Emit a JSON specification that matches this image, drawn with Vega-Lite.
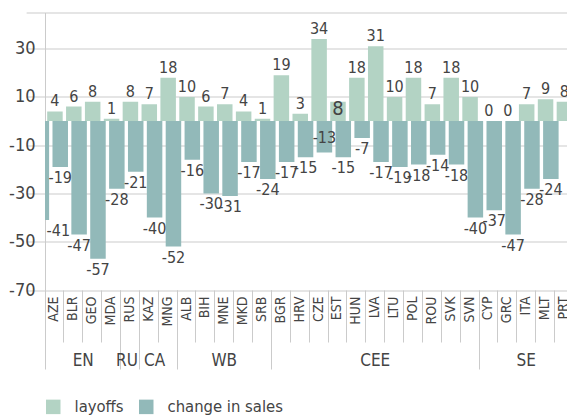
{
  "$schema": "https://vega.github.io/schema/vega-lite/v6.json",
  "width": 522,
  "height": 277.5,
  "autosize": {"type": "none"},
  "padding": {"left": 45, "top": 12.5, "right": 0, "bottom": 128},
  "config": {
    "font": "DejaVu Sans Condensed, sans-serif",
    "view": {"stroke": null},
    "axis": {"labelColor": "#444444", "labelFont": "DejaVu Sans Condensed, sans-serif"},
    "legend": {"labelFont": "DejaVu Sans Condensed, sans-serif"},
    "text": {"font": "DejaVu Sans Condensed, sans-serif", "color": "#444444", "fontSize": 16}
  },
  "data": {
    "values": [
      {"country": "ARM", "group": "EN", "layoffs": null, "sales": -41},
      {"country": "AZE", "group": "EN", "layoffs": 4, "sales": -19},
      {"country": "BLR", "group": "EN", "layoffs": 6, "sales": -47},
      {"country": "GEO", "group": "EN", "layoffs": 8, "sales": -57},
      {"country": "MDA", "group": "EN", "layoffs": 1, "sales": -28},
      {"country": "RUS", "group": "RU", "layoffs": 8, "sales": -21},
      {"country": "KAZ", "group": "CA", "layoffs": 7, "sales": -40},
      {"country": "MNG", "group": "CA", "layoffs": 18, "sales": -52},
      {"country": "ALB", "group": "WB", "layoffs": 10, "sales": -16},
      {"country": "BIH", "group": "WB", "layoffs": 6, "sales": -30},
      {"country": "MNE", "group": "WB", "layoffs": 7, "sales": -31},
      {"country": "MKD", "group": "WB", "layoffs": 4, "sales": -17},
      {"country": "SRB", "group": "WB", "layoffs": 1, "sales": -24},
      {"country": "BGR", "group": "CEE", "layoffs": 19, "sales": -17},
      {"country": "HRV", "group": "CEE", "layoffs": 3, "sales": -15},
      {"country": "CZE", "group": "CEE", "layoffs": 34, "sales": -13},
      {"country": "EST", "group": "CEE", "layoffs": 8, "sales": -15},
      {"country": "HUN", "group": "CEE", "layoffs": 18, "sales": -7},
      {"country": "LVA", "group": "CEE", "layoffs": 31, "sales": -17},
      {"country": "LTU", "group": "CEE", "layoffs": 10, "sales": -19},
      {"country": "POL", "group": "CEE", "layoffs": 18, "sales": -18},
      {"country": "ROU", "group": "CEE", "layoffs": 7, "sales": -14},
      {"country": "SVK", "group": "CEE", "layoffs": 18, "sales": -18},
      {"country": "SVN", "group": "CEE", "layoffs": 10, "sales": -40},
      {"country": "CYP", "group": "SE", "layoffs": 0, "sales": -37},
      {"country": "GRC", "group": "SE", "layoffs": 0, "sales": -47},
      {"country": "ITA", "group": "SE", "layoffs": 7, "sales": -28},
      {"country": "MLT", "group": "SE", "layoffs": 9, "sales": -24},
      {"country": "PRT", "group": "SE", "layoffs": 8, "sales": null}
    ]
  },
  "resolve": {"axis": {"x": "independent"}},
  "layer": [
    {
      "mark": {"type": "bar", "width": 15.5, "xOffset": 0.5, "clip": true},
      "encoding": {
        "x": {
          "field": "country",
          "type": "nominal",
          "scale": {
            "domain": ["ARM","AZE","BLR","GEO","MDA","RUS","KAZ","MNG","ALB","BIH","MNE","MKD","SRB","BGR","HRV","CZE","EST","HUN","LVA","LTU","POL","ROU","SVK","SVN","CYP","GRC","ITA","MLT","PRT"],
            "range": [-18.87, 528.36],
            "paddingInner": 0,
            "paddingOuter": 0
          },
          "axis": {
            "orient": "bottom",
            "title": null,
            "values": ["AZE","BLR","GEO","MDA","RUS","KAZ","MNG","ALB","BIH","MNE","MKD","SRB","BGR","HRV","CZE","EST","HUN","LVA","LTU","POL","ROU","SVK","SVN","CYP","GRC","ITA","MLT","PRT"],
            "bandPosition": 0,
            "labelOffset": 0,
            "labelAngle": -90,
            "labelFontSize": 14,
            "labelPadding": -46,
            "tickSize": 52,
            "tickColor": "#cbcbcb",
            "domain": false,
            "grid": false,
            "labelOverlap": false
          }
        },
        "y": {
          "field": "layoffs",
          "type": "quantitative",
          "title": null,
          "scale": {"domain": [-70, 45], "nice": false},
          "axis": {
            "title": null,
            "values": [-70, -50, -30, -10, 10, 30, 45],
            "grid": true,
            "gridColor": "#cbcbcb",
            "ticks": false,
            "domain": true,
            "domainColor": "#cbcbcb",
            "labelExpr": "datum.value == 45 ? '' : '' + datum.value",
            "labelFontSize": 18,
            "labelPadding": 10
          }
        },
        "color": {
          "datum": "layoffs",
          "scale": {"domain": ["layoffs", "change in sales"], "range": ["#b3d3c4", "#92b9b9"]},
          "legend": {
            "orient": "none",
            "legendX": 0,
            "legendY": 386,
            "direction": "horizontal",
            "title": null,
            "symbolType": "square",
            "symbolSize": 210,
            "symbolStrokeWidth": 0,
            "labelFontSize": 16.5,
            "labelColor": "#444444",
            "labelOffset": 13,
            "columnPadding": 14,
            "padding": 0
          }
        }
      }
    },
    {
      "mark": {"type": "bar", "width": 15.5, "xOffset": 5.8, "clip": true},
      "encoding": {
        "x": {
          "field": "country",
          "type": "nominal",
          "axis": {
            "orient": "bottom",
            "title": null,
            "values": ["AZE","RUS","KAZ","ALB","BGR","CYP"],
            "bandPosition": 0,
            "tickSize": 79,
            "tickColor": "#cbcbcb",
            "labels": false,
            "domain": false,
            "grid": false
          }
        },
        "y": {"field": "sales", "type": "quantitative", "title": null},
        "color": {"datum": "change in sales"}
      }
    },
    {
      "transform": [{"filter": "datum.layoffs != null && datum.country != 'EST'"}],
      "mark": {"type": "text", "baseline": "bottom", "dy": -2, "xOffset": 0.5},
      "encoding": {
        "x": {
          "field": "country",
          "type": "nominal",
          "axis": {
            "orient": "bottom",
            "title": null,
            "values": ["GEO","RUS","MNG","MNE","LVA","ITA"],
            "ticks": false,
            "domain": false,
            "grid": false,
            "labelAngle": 0,
            "labelAlign": "center",
            "labelBaseline": "top",
            "labelFontSize": 17,
            "labelPadding": 62,
            "labelOverlap": false,
            "labelExpr": "datum.value == 'GEO' ? 'EN' : datum.value == 'RUS' ? 'RU' : datum.value == 'MNG' ? 'CA' : datum.value == 'MNE' ? 'WB' : datum.value == 'LVA' ? 'CEE' : 'SE'",
            "labelOffset": {"condition": [{"test": "datum.value == 'GEO'", "value": -9}, {"test": "datum.value == 'MNG'", "value": -13}, {"test": "datum.value == 'RUS'", "value": -3}], "value": 0}
          }
        },
        "y": {"field": "layoffs", "type": "quantitative", "title": null},
        "text": {"field": "layoffs", "type": "nominal"}
      }
    },
    {
      "transform": [{"filter": "datum.country == 'EST'"}],
      "mark": {"type": "text", "baseline": "bottom", "dy": 17, "xOffset": 0.5, "fontSize": 20},
      "encoding": {
        "x": {"field": "country", "type": "nominal", "axis": null},
        "y": {"field": "layoffs", "type": "quantitative", "title": null},
        "text": {"field": "layoffs", "type": "nominal"}
      }
    },
    {
      "transform": [{"filter": "datum.sales != null && datum.country != 'ARM' && datum.country != 'CZE'"}],
      "mark": {"type": "text", "baseline": "top", "dy": 3, "xOffset": 5.8},
      "encoding": {
        "x": {"field": "country", "type": "nominal", "axis": null},
        "y": {"field": "sales", "type": "quantitative", "title": null},
        "text": {"field": "sales", "type": "nominal"}
      }
    },
    {
      "transform": [{"filter": "datum.country == 'CZE'"}],
      "mark": {"type": "text", "baseline": "top", "dy": -22, "xOffset": 5.8},
      "encoding": {
        "x": {"field": "country", "type": "nominal", "axis": null},
        "y": {"field": "sales", "type": "quantitative", "title": null},
        "text": {"field": "sales", "type": "nominal"}
      }
    },
    {
      "transform": [{"filter": "datum.country == 'ARM'"}],
      "mark": {"type": "text", "baseline": "top", "dy": 3, "xOffset": 22.8},
      "encoding": {
        "x": {"field": "country", "type": "nominal", "axis": null},
        "y": {"field": "sales", "type": "quantitative", "title": null},
        "text": {"field": "sales", "type": "nominal"}
      }
    }
  ]
}
